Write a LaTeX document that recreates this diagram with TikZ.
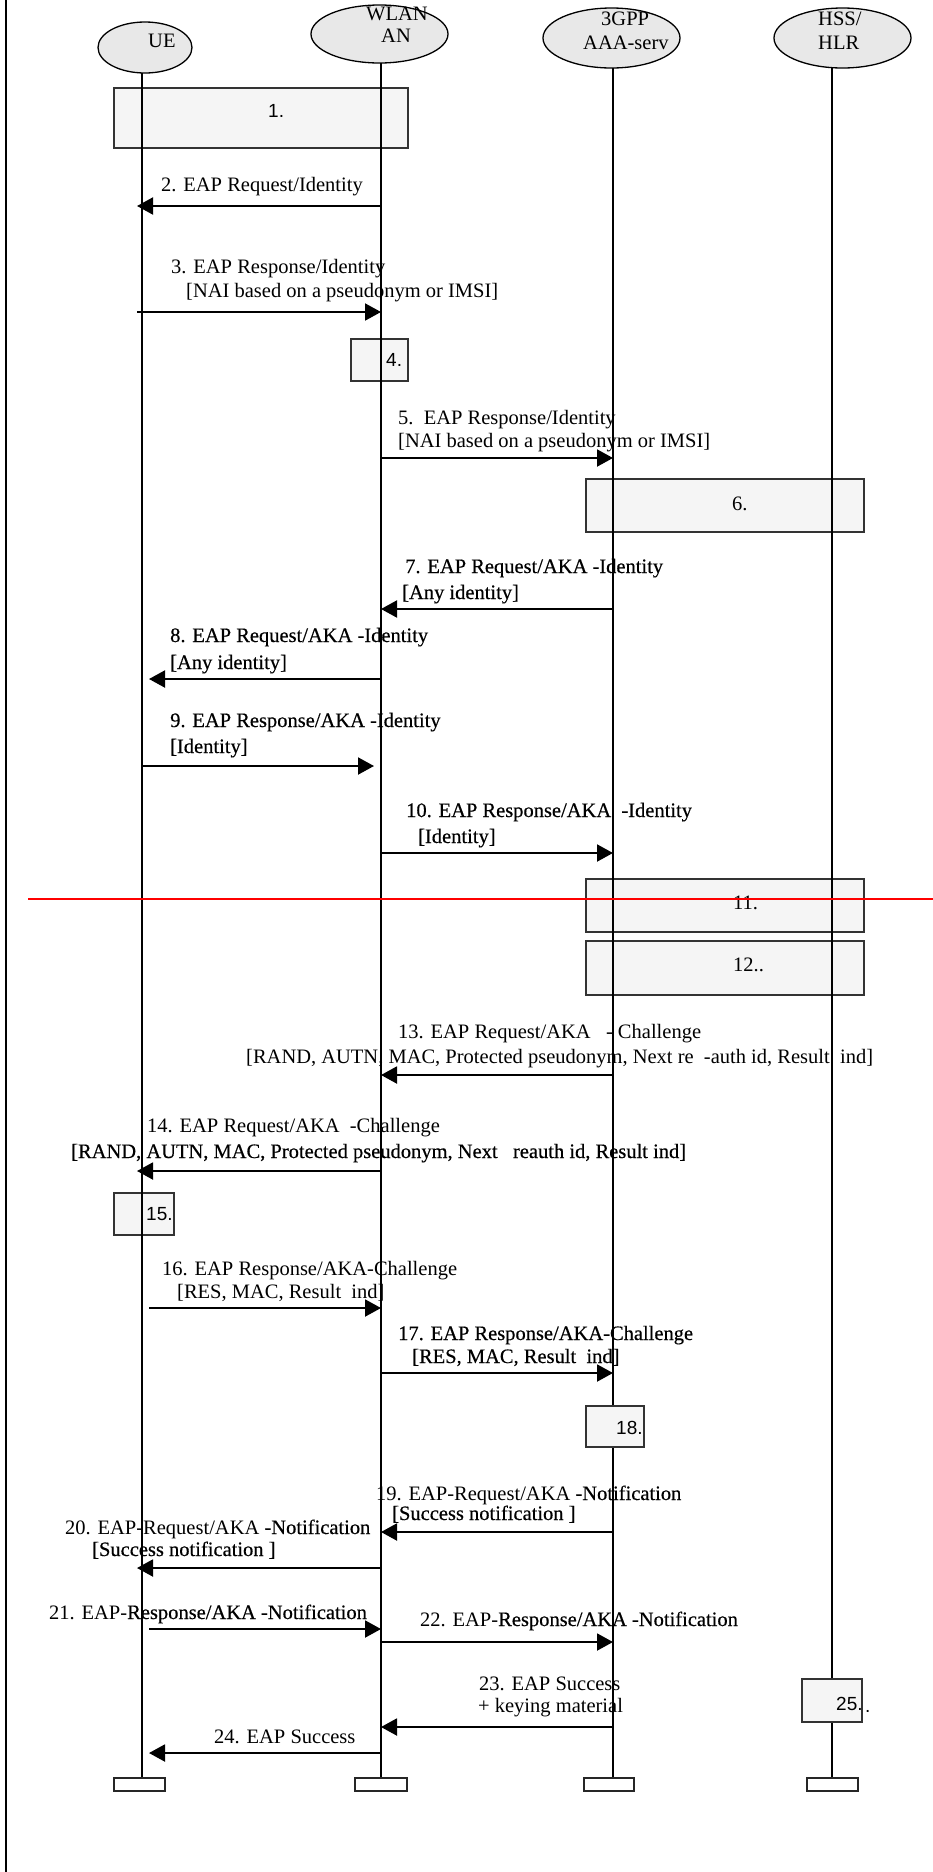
\documentclass[tikz,border=0pt]{standalone}
\usepackage{fontspec}
\setmainfont{Liberation Serif}
\newfontfamily\boxfont{Liberation Sans}
\newfontfamily\heavy[FakeBold=0.4]{Liberation Serif}
\usetikzlibrary{arrows.meta,shapes.geometric}
\definecolor{ellfill}{RGB}{232,232,232}
\definecolor{boxfill}{RGB}{245,245,245}
\begin{document}
\begin{tikzpicture}[x=1pt,y=-1pt,
  lbl/.style={anchor=base west,inner sep=0pt,font=\fontsize{20.5}{24}\selectfont},
  hlbl/.style={anchor=base west,inner sep=0pt,font=\heavy\fontsize{20.5}{24}\selectfont},
  blbl/.style={anchor=base west,inner sep=0pt,font=\boxfont\fontsize{19}{22}\selectfont},
  actor/.style={ellipse,draw,fill=ellfill,line width=1.3pt,inner sep=0pt},
  procbox/.style={draw=black!80,fill=boxfill,line width=2pt},
  endbox/.style={draw=black!85,fill=white,line width=1.5pt},
  life/.style={line width=1.3pt},
  msg/.style={line width=2pt,-{Triangle[length=16pt,width=17pt]}}]
\useasboundingbox (0,0) rectangle (933,1872);
% left border
\draw[line width=1.3pt] (6,0) coordinate (bt) -- (6,1872) coordinate (bb);
% lifeline x positions
\coordinate (ue) at (142,0);
\coordinate (wl) at (381,0);
\coordinate (aa) at (613,0);
\coordinate (hs) at (832,0);
% actors
\node[actor,minimum width=94pt,minimum height=51pt] (UEe) at (145,47.5) {};
\node[actor,minimum width=137pt,minimum height=58pt] (WLe) at (379.5,34) {};
\node[actor,minimum width=137pt,minimum height=60pt] (AAe) at (611.5,38) {};
\node[actor,minimum width=137pt,minimum height=60pt] (HSe) at (842.5,38) {};
\node[lbl] (tUE) at (148,47) {UE};
\node[lbl] (tWL1) at (366,20) {WLAN};
\node[lbl] (tWL2) at (381,42) {AN};
\node[lbl] (tAA1) at (601,25) {3GPP};
\node[lbl] (tAA2) at (583,49) {AAA-serv};
\node[lbl] (tHS1) at (818,25) {HSS/};
\node[lbl] (tHS2) at (818,49) {HLR};
% boxes under lifelines
\draw[procbox] (114,88) rectangle (408,148);
\draw[procbox] (351,339) rectangle (408,381);
\draw[procbox] (586,479) rectangle (864,532);
\draw[procbox] (586,879) rectangle (864,932);
\draw[procbox] (586,941) rectangle (864,995);
\draw[procbox] (114,1193) rectangle (174,1235);
% lifelines
\draw[life] (ue |- 0,73) -- (ue |- 0,1778);
\draw[life] (wl |- 0,63) -- (wl |- 0,1778);
\draw[life] (aa |- 0,68) -- (aa |- 0,1778);
\draw[life] (hs |- 0,68) -- (hs |- 0,1778);
% boxes over lifelines
\draw[procbox] (586,1406) rectangle (644,1447);
\draw[procbox] (802,1679) rectangle (862,1722);
% end boxes
\draw[endbox] (114,1778) rectangle (165,1791);
\draw[endbox] (355,1778) rectangle (407,1791);
\draw[endbox] (584,1778) rectangle (634,1791);
\draw[endbox] (807,1778) rectangle (858,1791);
% box labels
\node[blbl] (b1) at (268,117) {1.};
\node[blbl] (b4) at (386,366) {4.};
\node[lbl] (b6) at (732,510) {6.};
\node[lbl] (b11) at (733,909) {11.};
\node[lbl] (b12) at (733,971) {12..};
\node[blbl] (b15) at (146,1220) {15.};
\node[blbl] (b18) at (616,1434) {18.};
\node[blbl] (b25) at (836,1710) {25.};
\node[blbl] (b25d) at (865,1712) {.};
% messages
\draw[msg] (wl |- 0,206) -- ([xshift=-5pt]ue |- 0,206);
\draw[msg] ([xshift=-5pt]ue |- 0,312) -- (wl |- 0,312);
\draw[msg] (wl |- 0,458) -- (aa |- 0,458);
\draw[msg] (aa |- 0,609) -- (wl |- 0,609);
\draw[msg] (wl |- 0,679) -- ([xshift=7pt]ue |- 0,679);
\draw[msg] (ue |- 0,766) -- ([xshift=-7pt]wl |- 0,766);
\draw[msg] (wl |- 0,853) -- (aa |- 0,853);
\draw[msg] (aa |- 0,1075) -- (wl |- 0,1075);
\draw[msg] (wl |- 0,1171) -- ([xshift=-5pt]ue |- 0,1171);
\draw[msg] ([xshift=7pt]ue |- 0,1308) -- (wl |- 0,1308);
\draw[msg] (wl |- 0,1373) -- (aa |- 0,1373);
\draw[msg] (aa |- 0,1532) -- (wl |- 0,1532);
\draw[msg] (wl |- 0,1568) -- ([xshift=-5pt]ue |- 0,1568);
\draw[msg] ([xshift=7pt]ue |- 0,1629) -- (wl |- 0,1629);
\draw[msg] (wl |- 0,1642) -- (aa |- 0,1642);
\draw[msg] (aa |- 0,1727) -- (wl |- 0,1727);
\draw[msg] (wl |- 0,1753) -- ([xshift=7pt]ue |- 0,1753);
% message labels
\node[lbl] (l2) at (161,191) {2. EAP Request/Identity};
\node[lbl] (l3a) at (171,273) {3. EAP Response/Identity};
\node[lbl] (l3b) at (186,297) {[NAI based on a pseudonym or IMSI]};
\node[lbl] (l5a) at (398,424) {5.\ \ EAP Response/Identity};
\node[lbl] (l5b) at (398,447) {[NAI based on a pseudonym or IMSI]};
\node[hlbl] (l7a) at (405,573) {7. EAP Request/AKA -Identity};
\node[hlbl] (l7b) at (402,599) {[Any identity]};
\node[hlbl] (l8a) at (170,642) {8. EAP Request/AKA -Identity};
\node[hlbl] (l8b) at (170,669) {[Any identity]};
\node[hlbl] (l9a) at (170,727) {9. EAP Response/AKA -Identity};
\node[hlbl] (l9b) at (170,753) {[Identity]};
\node[hlbl] (l10a) at (406,817) {10. EAP Response/AKA\ \ -Identity};
\node[hlbl] (l10b) at (418,843) {[Identity]};
\node[lbl] (l13a) at (398,1038) {13. EAP Request/AKA\ \ \ -\ Challenge};
\node[lbl] (l13b) at (246,1063) {[RAND, AUTN, MAC, Protected pseudonym, Next re\ \ -auth id, Result\ \ ind]};
\node[lbl] (l14a) at (147,1132) {14. EAP Request/AKA\ \ -Challenge};
\node[hlbl] (l14b) at (71,1158) {[RAND, AUTN, MAC, Protected pseudonym, Next\ \ \ reauth id, Result ind]};
\node[lbl] (l16a) at (162,1275) {16. EAP Response/AKA-Challenge};
\node[lbl] (l16b) at (177,1298) {[RES, MAC, Result\ \ ind]};
\node[hlbl] (l17a) at (398,1340) {17. EAP Response/AKA-Challenge};
\node[hlbl] (l17b) at (412,1363) {[RES, MAC, Result\ \ ind]};
\node[lbl] (l19a) at (376,1500) {19. EAP-Request/AKA {\heavy -Notification}};
\node[hlbl] (l19b) at (392,1520) {[Success notification ]};
\node[lbl] (l20a) at (65,1534) {20. EAP-Request/AKA {\heavy -Notification}};
\node[hlbl] (l20b) at (92,1556) {[Success notification ]};
\node[lbl] (l21) at (49,1619) {21. EAP-{\heavy Response/AKA -Notification}};
\node[lbl] (l22) at (420,1626) {22. EAP-{\heavy Response/AKA -Notification}};
\node[lbl] (l23a) at (479,1690) {23. EAP Success};
\node[lbl] (l23b) at (478,1712) {+ keying material};
\node[lbl] (l24) at (214,1743) {24. EAP Success};
% red line
\draw[red,line width=1.5pt] (28,899) coordinate (r1) -- (933,899) coordinate (r2);
\end{tikzpicture}
\end{document}
